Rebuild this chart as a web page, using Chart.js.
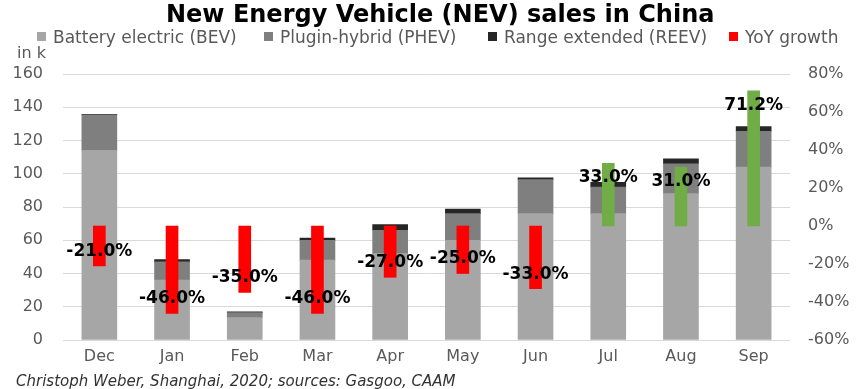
<!DOCTYPE html>
<html>
<head>
<meta charset="utf-8">
<script src="https://cdn.jsdelivr.net/npm/chart.js@4"></script>
<style>
  html, body { margin: 0; padding: 0; background: #ffffff; }
  #wrap { position: relative; width: 866px; height: 389px; overflow: hidden; background: #ffffff; font-family: 'DejaVu Sans', sans-serif; }
  #chart { position: absolute; left: 0; top: 0; }
  .txt { position: absolute; white-space: nowrap; }
  #title { left: 166px; top: 0px; font-size: 24px; line-height: 28px; font-weight: bold; color: #000000; }
  .lg { top: 27px; font-size: 17px; line-height: 20px; color: #595959; }
  .box { position: absolute; top: 32px; width: 9px; height: 9px; }
  #unit { left: 17px; top: 43px; font-size: 16px; line-height: 19px; color: #595959; }
  #foot { left: 16px; top: 372px; font-size: 15px; line-height: 18px; font-style: italic; color: #333333; }
</style>
</head>
<body>
<div id="wrap">
  <canvas id="chart" width="866" height="389"></canvas>
  <div id="title" class="txt">New Energy Vehicle (NEV) sales in China</div>
  <div class="box" style="left:37px;background:#a6a6a6"></div>
  <div class="txt lg" style="left:53px">Battery electric (BEV)</div>
  <div class="box" style="left:264px;background:#7f7f7f"></div>
  <div class="txt lg" style="left:280px">Plugin-hybrid (PHEV)</div>
  <div class="box" style="left:488px;background:#262626"></div>
  <div class="txt lg" style="left:504px">Range extended (REEV)</div>
  <div class="box" style="left:729px;background:#ff0000"></div>
  <div class="txt lg" style="left:745px">YoY growth</div>
  <div id="unit" class="txt">in k</div>
  <div id="foot" class="txt">Christoph Weber, Shanghai, 2020; sources: Gasgoo, CAAM</div>
</div>
<script>
// ---- data ----
const categories = ['Dec', 'Jan', 'Feb', 'Mar', 'Apr', 'May', 'Jun', 'Jul', 'Aug', 'Sep'];
const bev  = [114, 36, 13.5, 48, 52, 60, 76, 76, 88, 104];
const phev = [21.5, 11, 3, 12, 14, 16, 20.5, 16, 18, 21.5];
const reev = [0.3, 1.4, 0.5, 1.3, 3.4, 2.8, 1, 2.8, 3, 2.8];
const yoy  = [-21.0, -46.0, -35.0, -46.0, -27.0, -25.0, -33.0, 33.0, 31.0, 71.2];
const leftMin = 0, leftMax = 160, leftStep = 20;
const rightMin = -60, rightMax = 80, rightStep = 20;

const FONT = "'DejaVu Sans', sans-serif";
Chart.defaults.font.family = FONT;

const yoyLabels = {
  id: 'yoyLabels',
  afterDatasetsDraw(chart) {
    const ctx = chart.ctx;
    const meta = chart.getDatasetMeta(0);
    ctx.save();
    ctx.font = "bold 17px " + FONT;
    ctx.fillStyle = '#000000';
    ctx.textAlign = 'center';
    ctx.textBaseline = 'middle';
    meta.data.forEach((el, i) => {
      const v = yoy[i];
      const y = v < 0 ? el.y - 14.5 : el.y + 14.5;
      ctx.fillText(v.toFixed(1) + '%', el.x, y);
    });
    ctx.restore();
  }
};

new Chart(document.getElementById('chart'), {
  type: 'bar',
  data: {
    labels: categories,
    datasets: [
      { label: 'YoY growth', data: yoy, yAxisID: 'y1', stack: 's', barThickness: 12,
        backgroundColor: (c) => (c.raw < 0 ? '#ff0000' : '#70ad47'), borderWidth: 0 },
      { label: 'Battery electric (BEV)', data: bev, yAxisID: 'y', stack: 's', barThickness: 35,
        backgroundColor: '#a6a6a6', borderWidth: 0 },
      { label: 'Plugin-hybrid (PHEV)', data: phev, yAxisID: 'y', stack: 's', barThickness: 35,
        backgroundColor: '#7f7f7f', borderWidth: 0 },
      { label: 'Range extended (REEV)', data: reev, yAxisID: 'y', stack: 's', barThickness: 35,
        backgroundColor: '#262626', borderWidth: 0 }
    ]
  },
  options: {
    responsive: false,
    animation: false,
    devicePixelRatio: 1,
    layout: { padding: { top: 74, bottom: 19, left: 0, right: 0 } },
    plugins: { legend: { display: false }, title: { display: false }, tooltip: { enabled: false } },
    scales: {
      x: {
        stacked: true,
        grid: { display: false, drawTicks: false },
        border: { display: false },
        ticks: { color: '#595959', font: { size: 16 }, padding: 7, maxRotation: 0 },
        afterFit(s) { s.height = 30; }
      },
      y: {
        position: 'left',
        stacked: true,
        min: leftMin, max: leftMax,
        ticks: { stepSize: leftStep, color: '#595959', font: { size: 16 }, padding: 20 },
        grid: { color: '#d9d9d9', lineWidth: 1, drawTicks: false },
        border: { display: false },
        afterFit(s) { s.width = 63; }
      },
      y1: {
        position: 'right',
        stacked: true,
        min: rightMin, max: rightMax,
        ticks: { stepSize: rightStep, color: '#595959', font: { size: 16 }, padding: 18,
                 callback: (v) => v + '%' },
        grid: { display: false, drawTicks: false },
        border: { display: false },
        afterFit(s) { s.width = 76; }
      }
    }
  },
  plugins: [yoyLabels]
});
</script>
</body>
</html>
